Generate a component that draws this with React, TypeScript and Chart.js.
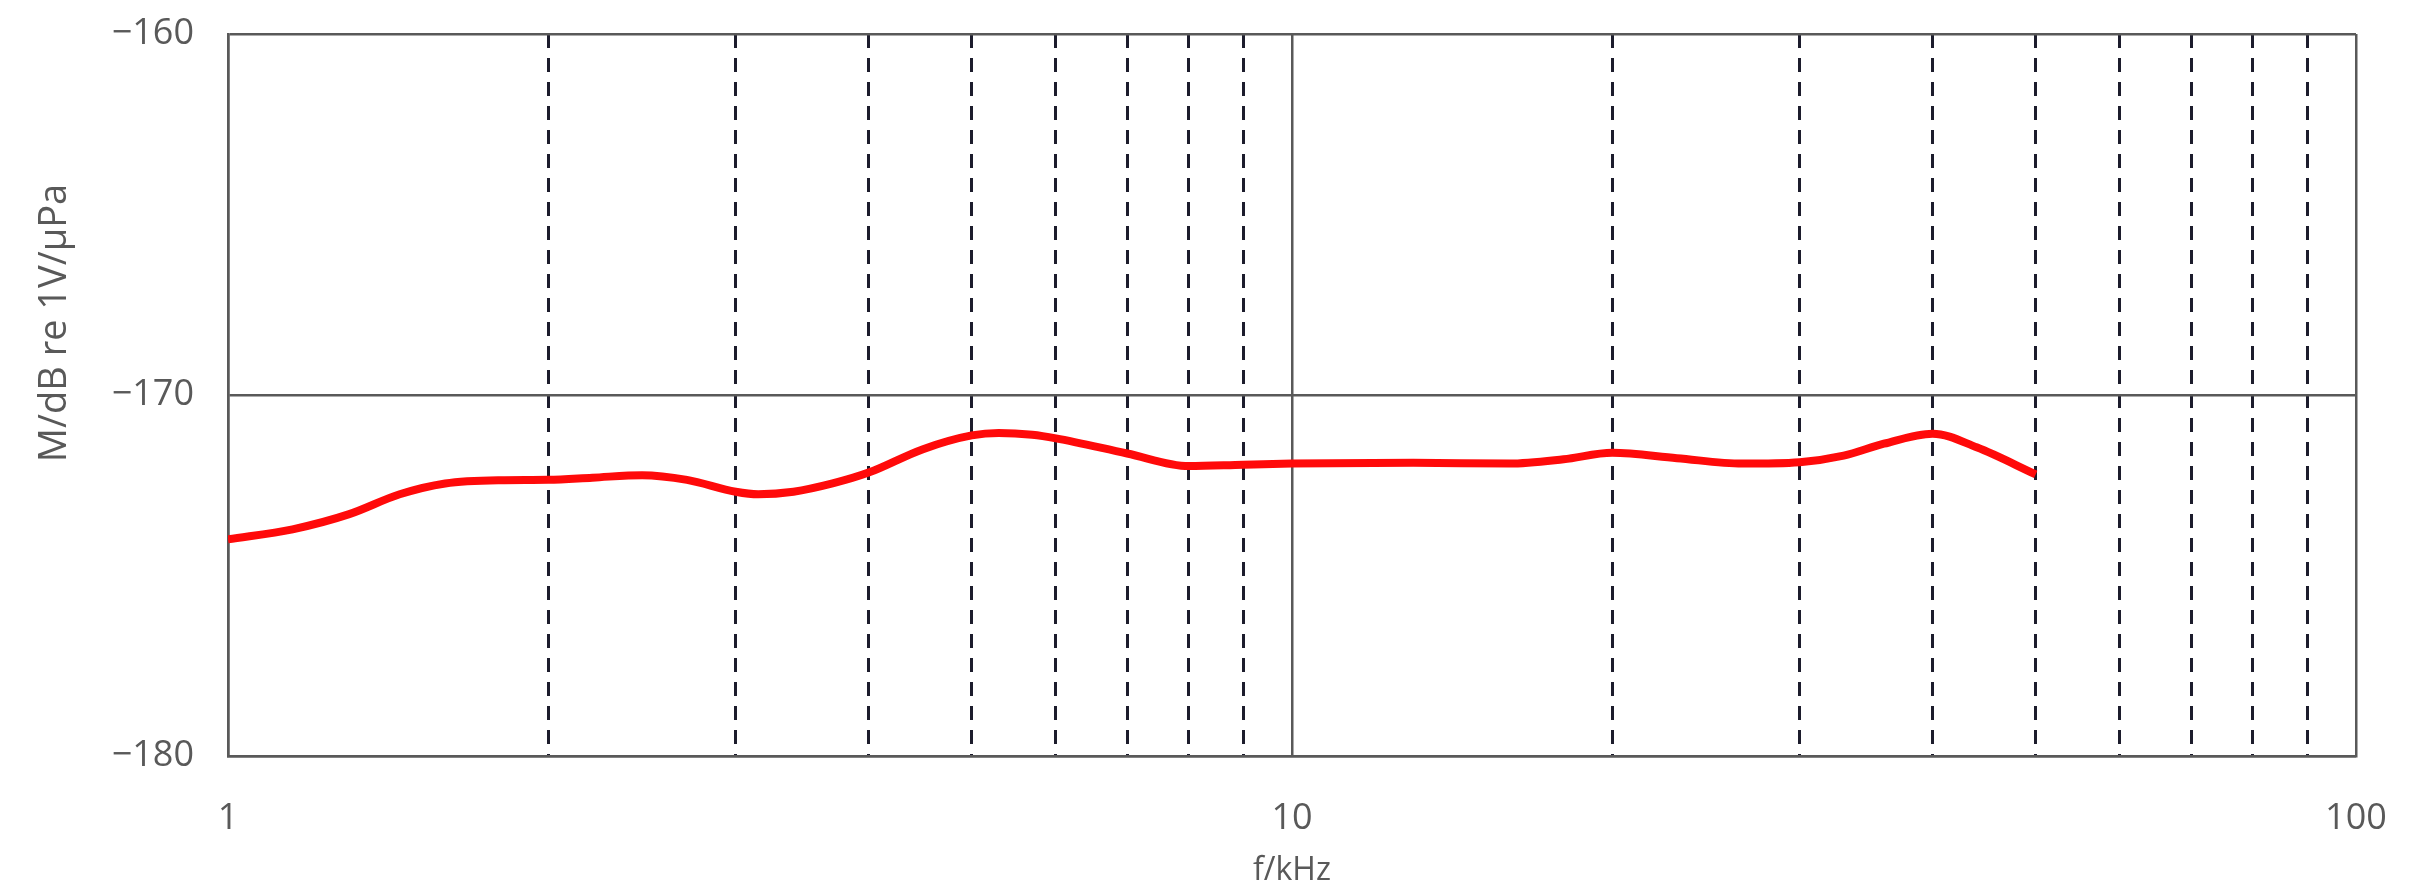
import React, { useEffect, useRef } from "react";
import { Chart, registerables } from "chart.js";

Chart.register(...registerables);

const freqKHz = [1, 1.15, 1.3, 1.45, 1.6, 1.8, 2, 2.2, 2.45, 2.7, 3, 3.15, 3.4, 3.7, 4, 4.5, 5, 5.3, 5.7, 6, 7, 8, 9, 10, 13, 16, 18, 20, 23, 26.5, 30, 33, 36, 40, 44, 50];
const sensitivity = [-174.0, -173.72, -173.3, -172.75, -172.45, -172.36, -172.35, -172.29, -172.22, -172.35, -172.68, -172.75, -172.68, -172.45, -172.15, -171.5, -171.12, -171.05, -171.1, -171.2, -171.62, -171.97, -171.93, -171.9, -171.88, -171.9, -171.78, -171.6, -171.75, -171.9, -171.86, -171.68, -171.35, -171.07, -171.45, -172.2];

const xGridValues = [1, 2, 3, 4, 5, 6, 7, 8, 9, 10, 20, 30, 40, 50, 60, 70, 80, 90, 100];
const xLabelValues = [1, 10, 100];
const yTickValues = [-180, -170, -160];

const yTitle = "M/dB re 1V/\u03bcPa";
const xTitle = "f/kHz";

const FONT = "'Open Sans', 'Noto Sans', sans-serif";
const GRAY = "#595959";
const DASH_COLOR = "#1c1c2c";

export default function App() {
  const canvasRef = useRef<HTMLCanvasElement | null>(null);

  useEffect(() => {
    if (!canvasRef.current) return;
    const yTitlePlugin = {
      id: "yTitlePlugin",
      afterDraw(chart: any) {
        const ctx = chart.ctx;
        ctx.save();
        ctx.translate(55, 323);
        ctx.rotate(-Math.PI / 2);
        ctx.font = `38px ${FONT}`;
        ctx.fillStyle = GRAY;
        ctx.textAlign = "center";
        ctx.textBaseline = "middle";
        ctx.fillText(yTitle, 0, 0);
        ctx.restore();
      },
    };

    const isMajor = (c: any) => c && c.tick && xLabelValues.includes(c.tick.value);

    const chart = new Chart(canvasRef.current, {
      type: "line",
      data: {
        datasets: [
          {
            data: freqKHz.map((f, i) => ({ x: f, y: sensitivity[i] })),
            borderColor: "#ff0a0a",
            borderWidth: 8,
            pointRadius: 0,
            cubicInterpolationMode: "monotone",
            fill: false,
          },
        ],
      },
      options: {
        animation: false,
        responsive: true,
        maintainAspectRatio: false,
        layout: { padding: { top: 34, right: 60, left: 0, bottom: 0 } },
        plugins: { legend: { display: false }, tooltip: { enabled: false } },
        scales: {
          x: {
            type: "logarithmic",
            min: 1,
            max: 100,
            afterBuildTicks: (scale: any) => {
              scale.ticks = xGridValues.map((v) => ({ value: v }));
            },
            afterFit: (scale: any) => {
              scale.height = 134;
              scale.paddingLeft = 0;
              scale.paddingRight = 0;
              scale.paddingTop = 0;
              scale.paddingBottom = 0;
            },
            ticks: {
              autoSkip: false,
              maxRotation: 0,
              padding: 41,
              color: GRAY,
              font: { family: FONT, size: 36 },
              callback: (v: any) => (xLabelValues.includes(Number(v)) ? String(v) : ""),
            },
            grid: {
              drawTicks: false,
              color: (c: any) => (isMajor(c) ? GRAY : DASH_COLOR),
              lineWidth: (c: any) => (isMajor(c) ? 2.5 : 3),
            },
            border: {
              display: true,
              color: GRAY,
              width: 2.5,
              dash: (c: any) => (c && c.tick && !isMajor(c) ? [14, 10] : []),
            },
            title: {
              display: true,
              text: xTitle,
              color: GRAY,
              font: { family: FONT, size: 32 },
              padding: { top: 0, bottom: 0 },
            },
          },
          y: {
            type: "linear",
            min: -180,
            max: -160,
            afterBuildTicks: (scale: any) => {
              scale.ticks = yTickValues.map((v) => ({ value: v }));
            },
            afterFit: (scale: any) => {
              scale.width = 228;
              scale.paddingLeft = 0;
              scale.paddingRight = 0;
              scale.paddingTop = 0;
              scale.paddingBottom = 0;
            },
            ticks: {
              padding: 34,
              color: GRAY,
              font: { family: FONT, size: 36 },
              callback: (v: any) => (Number(v) < 0 ? "\u2212" + Math.abs(Number(v)) : String(v)),
            },
            grid: {
              drawTicks: false,
              color: GRAY,
              lineWidth: 2.5,
            },
            border: { display: true, color: GRAY, width: 2.5 },
          },
        },
      },
      plugins: [yTitlePlugin],
    } as any);

    return () => chart.destroy();
  }, []);

  return (
    <div style={{ position: "absolute", left: 0, top: 0, width: 2416, height: 890, background: "#ffffff" }}>
      <canvas ref={canvasRef} />
    </div>
  );
}
